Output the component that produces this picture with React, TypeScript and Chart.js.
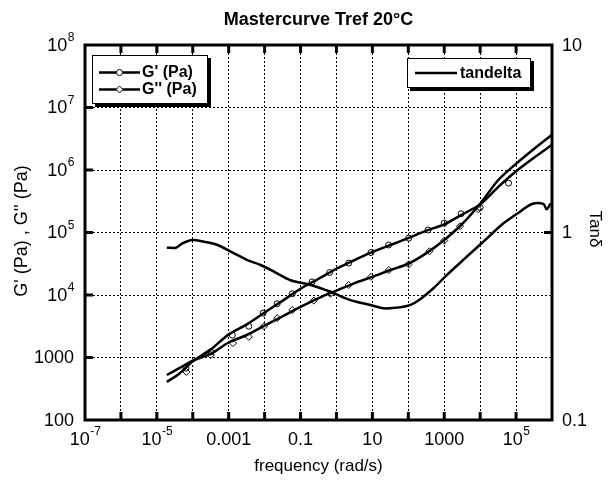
import React, { useEffect, useRef } from "react";
import { Chart, registerables } from "chart.js";

Chart.register(...registerables);

const FONT = '"Liberation Sans", Arial, Helvetica, sans-serif';

const chartTitle = "Mastercurve Tref 20°C";
const xTitle = "frequency (rad/s)";
const yTitle = "G' (Pa) , G'' (Pa)";
const y2Title = "Tanδ";

const legendGPrime = "G' (Pa)";
const legendGDouble = "G'' (Pa)";
const legendTan = "tandelta";

// Curves (frequency in rad/s)
const lineFreq = [1.9e-5, 4.2e-5, 1e-4, 3.2e-4, 1e-3, 3.2e-3, 0.01, 0.032, 0.1, 0.32, 1, 3.2, 10, 32, 100, 320, 1000, 3200, 1e4, 3.2e4, 1e5, 3.2e5, 9.8e5];
const gPrimeLine = [407, 550, 871, 1349, 2344, 3388, 5248, 8128, 12589, 18197, 26303, 36308, 48978, 63096, 81283, 107152, 134896, 194984, 281838, 537032, 954993, 1584893, 2511886];
const gDoubleLine = [525, 676, 891, 1148, 1738, 2291, 3236, 4571, 6457, 8913, 11749, 15488, 19498, 25119, 31623, 46774, 75858, 138038, 288403, 691831, 1258925, 2187762, 3630781];

// Measured points (markers)
const gPrimeFreq = [6.46e-5, 3.16e-4, 1.26e-3, 3.63e-3, 9.1e-3, 0.0224, 0.0589, 0.209, 0.646, 2.19, 9.12, 28.2, 102, 355, 1000, 2951, 1e4, 61660];
const gPrimeVals = [676, 1230, 2291, 3162, 5129, 7244, 10471, 16218, 22909, 32359, 47863, 63096, 81283, 109648, 141254, 199526, 251189, 616595];
const gDoubleFreq = [6.61e-5, 3.16e-4, 1.32e-3, 3.63e-3, 9.55e-3, 0.0224, 0.0589, 0.234, 0.676, 2.19, 9.12, 28.8, 102, 389, 1000, 2754, 8913];
const gDoubleVals = [589, 1096, 1698, 2138, 3162, 4266, 5754, 8128, 10471, 14454, 19498, 25119, 30903, 50119, 74131, 125893, 234423];

// tan delta curve
const tanFreq = [1.9e-5, 3.39e-5, 5.13e-5, 9.77e-5, 2.04e-4, 4.9e-4, 1.15e-3, 3.31e-3, 7.76e-3, 0.0182, 0.0525, 0.191, 0.676, 2.45, 10, 20.4, 60.3, 115, 214, 501, 1175, 4266, 15488, 44668, 128825, 275423, 575440, 707946, 912011];
const tanVals = [0.83, 0.83, 0.875, 0.912, 0.893, 0.858, 0.791, 0.713, 0.671, 0.618, 0.556, 0.525, 0.483, 0.436, 0.408, 0.394, 0.399, 0.411, 0.441, 0.504, 0.593, 0.743, 0.931, 1.119, 1.291, 1.42, 1.42, 1.33, 1.43];

// Axes
const xTickValues = [1e-7, 1e-6, 1e-5, 1e-4, 1e-3, 1e-2, 0.1, 1, 10, 100, 1000, 1e4, 1e5, 1e6];
const xTickLabels = ["10^-7", "", "10^-5", "", "0.001", "", "0.1", "", "10", "", "1000", "", "10^5", ""];
const yTickValues = [100, 1000, 1e4, 1e5, 1e6, 1e7, 1e8];
const yTickLabels = ["100", "1000", "10^4", "10^5", "10^6", "10^7", "10^8"];
const y2TickValues = [0.1, 1, 10];
const y2TickLabels = ["0.1", "1", "10"];

const TICK_FS = 18;
const SUP_FS = 12;

function pts(xs: number[], ys: number[]) {
  return xs.map((x, i) => ({ x, y: ys[i] }));
}

function drawLabel(ctx: CanvasRenderingContext2D, label: string, x: number, y: number, align: "left" | "center" | "right") {
  const [base, exp] = label.split("^");
  ctx.textBaseline = "middle";
  ctx.textAlign = "left";
  ctx.font = `${TICK_FS}px ${FONT}`;
  const bw = ctx.measureText(base).width;
  let ew = 0;
  if (exp) {
    ctx.font = `${SUP_FS}px ${FONT}`;
    ew = ctx.measureText(exp).width;
  }
  const total = bw + ew;
  const sx = align === "center" ? x - total / 2 : align === "right" ? x - total : x;
  ctx.font = `${TICK_FS}px ${FONT}`;
  ctx.fillText(base, sx, y);
  if (exp) {
    ctx.font = `${SUP_FS}px ${FONT}`;
    ctx.fillText(exp, sx + bw + 0.5, y - 8);
  }
}

function drawMarker(ctx: CanvasRenderingContext2D, kind: "circle" | "diamond", x: number, y: number) {
  ctx.beginPath();
  if (kind === "circle") {
    ctx.arc(x, y, 3, 0, Math.PI * 2);
  } else {
    ctx.moveTo(x, y - 3.5);
    ctx.lineTo(x + 3.5, y);
    ctx.lineTo(x, y + 3.5);
    ctx.lineTo(x - 3.5, y);
    ctx.closePath();
  }
  ctx.fillStyle = "#fff";
  ctx.fill();
  ctx.lineWidth = 1;
  ctx.stroke();
}

function drawBox(ctx: CanvasRenderingContext2D, x: number, y: number, w: number, h: number) {
  ctx.fillStyle = "#000";
  ctx.fillRect(x + 3, y + 3, w, h);
  ctx.fillStyle = "#fff";
  ctx.fillRect(x, y, w, h);
  ctx.lineWidth = 1;
  ctx.strokeStyle = "#000";
  ctx.strokeRect(x + 0.5, y + 0.5, w - 1, h - 1);
}

const overlayPlugin = {
  id: "overlay",
  afterDraw(chart: any) {
    const { ctx, chartArea: a, scales } = chart;
    const xs = scales.x;
    const ys = scales.y;
    const y2 = scales.y2;
    ctx.save();
    ctx.setLineDash([]);
    ctx.strokeStyle = "#000";
    ctx.fillStyle = "#000";

    // inner tick marks
    const TL = 8;
    ctx.lineWidth = 3;
    ctx.beginPath();
    xTickValues.forEach((v) => {
      const px = xs.getPixelForValue(v);
      if (px > a.left + 2 && px < a.right - 2) {
        ctx.moveTo(px, a.bottom);
        ctx.lineTo(px, a.bottom - TL);
        ctx.moveTo(px, a.top);
        ctx.lineTo(px, a.top + TL);
      }
    });
    yTickValues.forEach((v) => {
      const py = ys.getPixelForValue(v);
      if (py > a.top + 2 && py < a.bottom - 2) {
        ctx.moveTo(a.left, py);
        ctx.lineTo(a.left + TL, py);
      }
    });
    y2TickValues.forEach((v) => {
      const py = y2.getPixelForValue(v);
      if (py > a.top + 2 && py < a.bottom - 2) {
        ctx.moveTo(a.right, py);
        ctx.lineTo(a.right - TL, py);
      }
    });
    ctx.stroke();

    // frame
    ctx.lineWidth = 3;
    ctx.strokeRect(a.left, a.top, a.right - a.left, a.bottom - a.top);

    // tick labels
    ctx.fillStyle = "#000";
    xTickValues.forEach((v, i) => {
      if (xTickLabels[i]) drawLabel(ctx, xTickLabels[i], xs.getPixelForValue(v), a.bottom + 20, "center");
    });
    yTickValues.forEach((v, i) => {
      drawLabel(ctx, yTickLabels[i], a.left - 11, ys.getPixelForValue(v) + 1, "right");
    });
    y2TickValues.forEach((v, i) => {
      drawLabel(ctx, y2TickLabels[i], a.right + 10, y2.getPixelForValue(v) + 1, "left");
    });

    // titles
    ctx.textAlign = "center";
    ctx.textBaseline = "middle";
    ctx.font = `bold 18px ${FONT}`;
    ctx.fillText(chartTitle, (a.left + a.right) / 2, 20);
    ctx.font = `17px ${FONT}`;
    ctx.fillText(xTitle, (a.left + a.right) / 2, 466);

    ctx.save();
    ctx.translate(22, 231);
    ctx.rotate(-Math.PI / 2);
    ctx.font = `18px ${FONT}`;
    ctx.fillText(yTitle, 0, 0);
    ctx.restore();

    ctx.save();
    ctx.translate(595, 229);
    ctx.rotate(Math.PI / 2);
    ctx.font = `17px ${FONT}`;
    ctx.fillText(y2Title, 0, 0);
    ctx.restore();

    // legend 1
    drawBox(ctx, 92, 55, 116, 49);
    ctx.strokeStyle = "#000";
    ctx.lineWidth = 2.5;
    ctx.beginPath();
    ctx.moveTo(99, 72.5);
    ctx.lineTo(140, 72.5);
    ctx.moveTo(99, 89.5);
    ctx.lineTo(140, 89.5);
    ctx.stroke();
    drawMarker(ctx, "circle", 119.5, 72.5);
    drawMarker(ctx, "diamond", 119.5, 89.5);
    ctx.fillStyle = "#000";
    ctx.textAlign = "left";
    ctx.textBaseline = "middle";
    ctx.font = `bold 16px ${FONT}`;
    ctx.fillText(legendGPrime, 142, 73);
    ctx.fillText(legendGDouble, 142, 90);

    // legend 2
    drawBox(ctx, 407, 58, 124, 30);
    ctx.strokeStyle = "#000";
    ctx.lineWidth = 2.5;
    ctx.beginPath();
    ctx.moveTo(415, 73);
    ctx.lineTo(457, 73);
    ctx.stroke();
    ctx.fillStyle = "#000";
    ctx.font = `bold 16px ${FONT}`;
    ctx.fillText(legendTan, 460, 73.5);

    ctx.restore();
  },
};

export default function App() {
  const ref = useRef<HTMLCanvasElement>(null);
  useEffect(() => {
    const canvas = ref.current;
    if (!canvas) return;
    const decadeTicks = (vals: number[]) => (scale: any) => {
      scale.ticks = vals.map((v) => ({ value: v }));
    };
    const gridOpts = { color: "#000", lineWidth: 1, drawTicks: false };
    const chart = new Chart(canvas, {
      type: "scatter",
      data: {
        datasets: [
          {
            label: "G' points",
            data: pts(gPrimeFreq, gPrimeVals),
            showLine: false,
            pointStyle: "circle",
            pointRadius: 3,
            pointBorderWidth: 1,
            borderColor: "#000",
            backgroundColor: "rgba(255,255,255,0)",
            yAxisID: "y",
          },
          {
            label: "G'' points",
            data: pts(gDoubleFreq, gDoubleVals),
            showLine: false,
            pointStyle: "rectRot",
            pointRadius: 3.5,
            pointBorderWidth: 1,
            borderColor: "#000",
            backgroundColor: "rgba(255,255,255,0)",
            yAxisID: "y",
          },
          {
            label: legendGPrime,
            data: pts(lineFreq, gPrimeLine),
            showLine: true,
            pointRadius: 0,
            borderColor: "#000",
            borderWidth: 2.5,
            tension: 0.3,
            yAxisID: "y",
          },
          {
            label: legendGDouble,
            data: pts(lineFreq, gDoubleLine),
            showLine: true,
            pointRadius: 0,
            borderColor: "#000",
            borderWidth: 2.5,
            tension: 0.3,
            yAxisID: "y",
          },
          {
            label: legendTan,
            data: pts(tanFreq, tanVals),
            showLine: true,
            pointRadius: 0,
            borderColor: "#000",
            borderWidth: 2.5,
            tension: 0.3,
            yAxisID: "y2",
          },
        ],
      },
      options: {
        responsive: false,
        animation: false,
        events: [],
        layout: { padding: { left: 85, right: 56, top: 45, bottom: 63 } },
        plugins: {
          legend: { display: false },
          title: { display: false },
          tooltip: { enabled: false },
        },
        scales: {
          x: {
            type: "logarithmic",
            min: 1e-7,
            max: 1e6,
            afterBuildTicks: decadeTicks(xTickValues),
            ticks: { display: false },
            grid: gridOpts,
            border: { display: false, dash: [2, 2] },
          },
          y: {
            type: "logarithmic",
            position: "left",
            min: 100,
            max: 1e8,
            afterBuildTicks: decadeTicks(yTickValues),
            ticks: { display: false },
            grid: gridOpts,
            border: { display: false, dash: [2, 2] },
          },
          y2: {
            type: "logarithmic",
            position: "right",
            min: 0.1,
            max: 10,
            afterBuildTicks: decadeTicks(y2TickValues),
            ticks: { display: false },
            grid: { display: false, drawTicks: false },
            border: { display: false },
          },
        },
      },
      plugins: [overlayPlugin],
    } as any);
    return () => chart.destroy();
  }, []);
  return (
    <canvas
      ref={ref}
      width={608}
      height={483}
      style={{ display: "block", position: "fixed", left: 0, top: 0, width: 608, height: 483 }}
    />
  );
}
